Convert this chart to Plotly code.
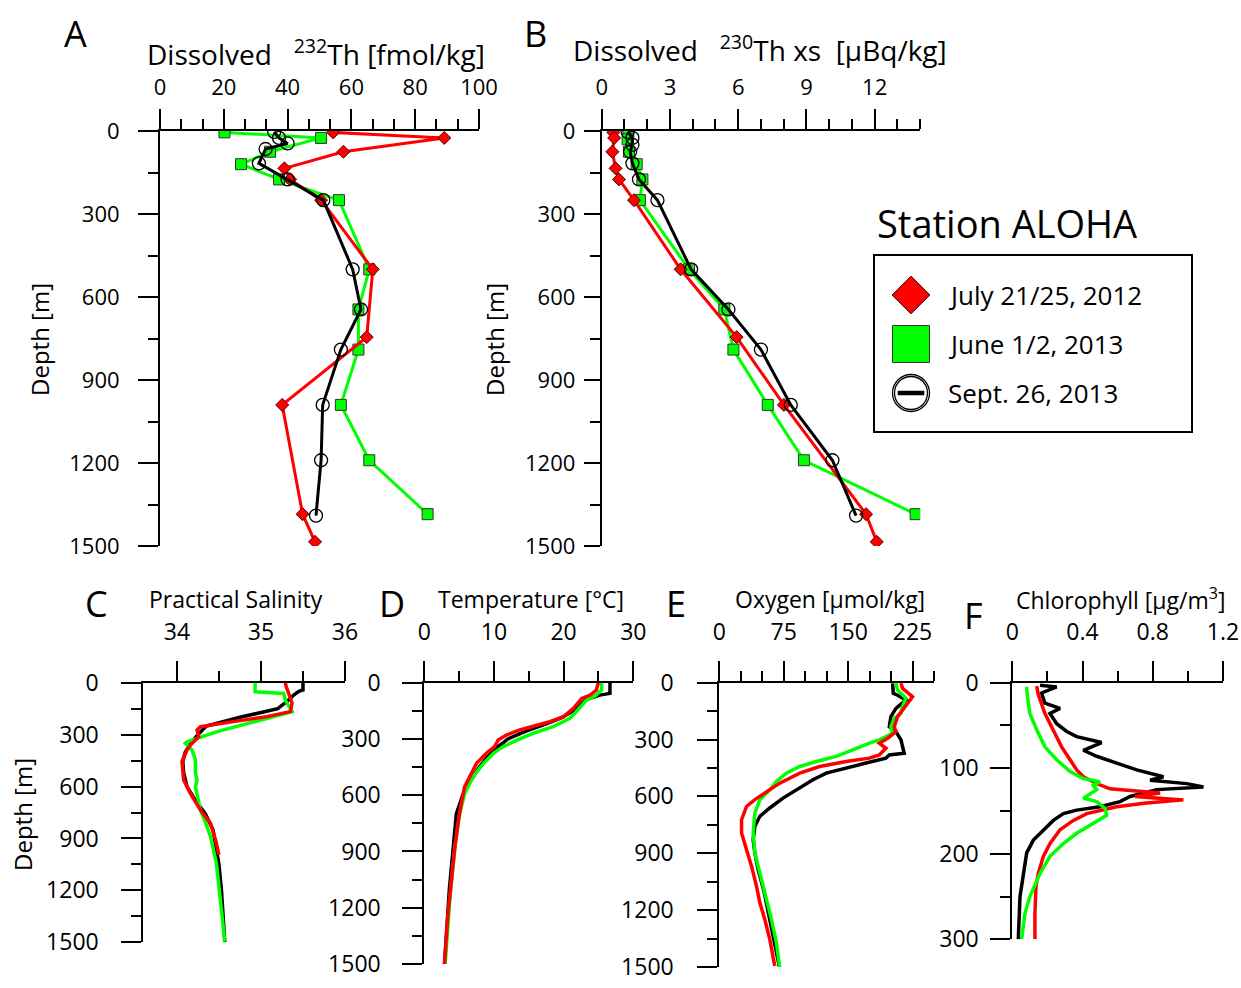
import plotly.graph_objects as go

W, H = 1241, 988
FONT = "Open Sans"

# ---------------- Panel A: dissolved 232Th [fmol/kg] ----------------
a_red_depth = [5, 25, 75, 135, 175, 250, 500, 745, 990, 1385, 1485]
a_red_val = [54.3, 89.1, 57.5, 39.0, 40.8, 50.5, 66.7, 64.8, 38.3, 44.7, 48.6]
a_green_depth = [5, 25, 75, 120, 175, 250, 500, 645, 790, 990, 1190, 1385]
a_green_val = [20.2, 50.5, 34.5, 25.4, 37.3, 56.1, 65.6, 62.2, 62.2, 56.7, 65.6, 83.9]
a_black_depth = [3, 25, 45, 65, 117, 175, 250, 500, 645, 790, 990, 1190, 1390]
a_black_val = [35.8, 37.3, 40.0, 33.1, 31.0, 40.0, 51.2, 60.4, 63.0, 56.7, 51.0, 50.5, 48.9]

# ---------------- Panel B: dissolved 230Th xs [uBq/kg] ----------------
b_red_depth = [5, 25, 75, 135, 175, 250, 500, 745, 990, 1385, 1485]
b_red_val = [0.51, 0.55, 0.47, 0.61, 0.76, 1.42, 3.47, 5.93, 8.01, 11.62, 12.09]
b_green_depth = [5, 30, 75, 120, 175, 250, 500, 645, 790, 990, 1190, 1385]
b_green_val = [1.17, 1.14, 1.20, 1.54, 1.79, 1.68, 3.84, 5.39, 5.79, 7.30, 8.89, 13.80]
b_black_depth = [3, 25, 50, 75, 117, 175, 250, 500, 645, 790, 990, 1190, 1390]
b_black_val = [1.14, 1.35, 1.35, 1.25, 1.35, 1.64, 2.45, 3.93, 5.57, 7.00, 8.31, 10.14, 11.18]

# ---------------- Panel C: practical salinity ----------------
c_red_depth = [0, 23, 62, 119, 167, 196, 225, 254, 273, 312, 360, 389, 456, 562, 639, 736, 813, 909, 995]
c_red_val = [35.29, 35.30, 35.33, 35.37, 35.35, 35.07, 34.67, 34.28, 34.24, 34.26, 34.16, 34.12, 34.06,
             34.08, 34.16, 34.28, 34.40, 34.46, 34.50]
c_green_depth = [0, 52, 62, 100, 167, 190, 225, 283, 341, 350, 389, 447, 520, 562, 601, 680, 736, 820,
                 890, 1044, 1236, 1496]
c_green_val = [34.93, 34.93, 35.27, 35.29, 35.37, 35.20, 34.91, 34.48, 34.12, 34.10, 34.18, 34.22, 34.22,
               34.24, 34.22, 34.26, 34.28, 34.35, 34.40, 34.47, 34.51, 34.57]
c_black_depth = [0, 42, 50, 71, 100, 150, 200, 250, 300, 340, 400, 456, 520, 600, 680, 760, 850, 950,
                 1050, 1200, 1350, 1500]
c_black_val = [35.50, 35.50, 35.45, 35.39, 35.33, 35.20, 34.75, 34.35, 34.25, 34.18, 34.10, 34.07, 34.08,
               34.12, 34.22, 34.34, 34.43, 34.47, 34.50, 34.53, 34.55, 34.57]

# ---------------- Panel D: temperature [degC] ----------------
d_red_depth = [0, 39, 66, 84, 137, 181, 208, 226, 252, 279, 306, 341, 377, 430, 483, 554, 625, 732, 874,
               1052, 1230, 1500]
d_red_val = [24.98, 24.7, 23.8, 22.6, 21.4, 20.0, 18.0, 16.1, 13.7, 11.8, 10.6, 10.1, 8.9, 7.5, 6.8, 5.8,
             5.4, 4.9, 4.4, 3.9, 3.4, 2.9]
d_green_depth = [0, 39, 66, 92, 163, 190, 234, 270, 306, 341, 377, 430, 501, 590, 697, 874, 1141, 1496]
d_green_val = [25.45, 25.45, 24.7, 23.3, 21.6, 20.9, 18.5, 15.6, 13.3, 11.3, 9.9, 8.5, 7.0, 5.8, 5.1, 4.4,
               3.7, 3.0]
d_black_depth = [0, 57, 66, 90, 140, 185, 220, 260, 300, 350, 400, 450, 520, 600, 700, 850, 1100, 1500]
d_black_val = [26.65, 26.65, 25.2, 23.2, 21.8, 19.8, 17.5, 14.5, 12.0, 10.3, 9.0, 7.9, 6.7, 5.5, 4.6, 4.2,
               3.6, 2.9]

# ---------------- Panel E: oxygen [umol/kg] ----------------
e_red_depth = [3, 30, 74, 118, 179, 232, 258, 293, 319, 346, 381, 398, 416, 442, 477, 530, 574, 617, 653,
               723, 793, 880, 968, 1073, 1161, 1249, 1354, 1494]
e_red_val = [211.5, 213.4, 225.0, 217.3, 207.6, 203.7, 205.7, 196.0, 186.3, 194.0, 186.3, 174.7, 147.7,
             116.8, 93.6, 70.4, 54.9, 41.4, 31.7, 25.9, 25.9, 31.7, 37.5, 43.3, 47.2, 53.0, 58.8, 64.6]
e_green_depth = [3, 39, 82, 126, 161, 188, 232, 267, 302, 319, 354, 389, 416, 442, 477, 521, 565, 617, 688,
                 793, 898, 1003, 1126, 1249, 1372, 1503]
e_green_val = [205.7, 207.6, 217.3, 213.4, 211.5, 203.7, 199.8, 201.8, 186.3, 174.7, 155.4, 136.1, 112.9,
               93.6, 78.1, 66.5, 58.8, 47.2, 41.4, 39.4, 41.4, 47.2, 54.9, 60.7, 66.5, 70.4]
e_black_depth = [3, 56, 66, 91, 135, 179, 232, 258, 302, 372, 381, 398, 424, 451, 477, 512, 556, 609, 661,
                 705, 758, 828, 898, 986, 1100, 1250, 1400, 1500]
e_black_val = [201.8, 202.6, 207.6, 217.3, 205.7, 199.8, 197.9, 205.7, 211.5, 215.3, 197.9, 194.0, 170.9,
               147.7, 124.5, 109.0, 93.6, 74.2, 58.8, 47.2, 41.4, 39.4, 41.4, 45.2, 52.0, 59.0, 66.0, 70.0]

# ---------------- Panel F: chlorophyll [ug/m3] ----------------
f_red_depth = [4, 14, 36, 55, 75, 90, 102, 110, 118, 124, 129, 133, 137, 141, 145, 153, 161, 172, 188, 203,
               223, 238, 270, 300]
f_red_val = [0.139, 0.148, 0.186, 0.234, 0.281, 0.329, 0.367, 0.405, 0.481, 0.557, 0.842, 0.700, 0.975,
             0.750, 0.595, 0.424, 0.348, 0.272, 0.215, 0.177, 0.148, 0.135, 0.129, 0.129]
f_green_depth = [5, 16, 36, 55, 75, 90, 104, 112, 116, 120, 125, 135, 139, 147, 155, 164, 176, 188, 203,
                 223, 250, 270, 300]
f_green_val = [0.082, 0.086, 0.100, 0.139, 0.186, 0.253, 0.329, 0.405, 0.500, 0.462, 0.481, 0.405, 0.481,
               0.529, 0.538, 0.462, 0.367, 0.291, 0.215, 0.158, 0.100, 0.072, 0.053]
f_black_depth = [3, 5, 12, 24, 30, 36, 48, 57, 63, 70, 79, 86, 94, 102, 110, 114, 118, 122, 125, 133, 139,
                 145, 149, 153, 161, 172, 184, 199, 223, 250, 300]
f_black_val = [0.158, 0.253, 0.167, 0.186, 0.272, 0.215, 0.253, 0.310, 0.367, 0.509, 0.405, 0.481, 0.595,
               0.709, 0.861, 0.785, 0.994, 1.089, 0.823, 0.671, 0.614, 0.500, 0.367, 0.291, 0.234, 0.177,
               0.120, 0.082, 0.063, 0.044, 0.034]

legend_labels = ["July 21/25, 2012", "June 1/2, 2013", "Sept. 26, 2013"]

RED, GREEN, BLACK = "#ff0000", "#00ff00", "#000000"


def fx(p):
    return p / W


def fy(p):
    return 1 - p / H


fig = go.Figure()

# ---- Panels A and B (profiles with markers) ----
for xa, ya, red, green, black in [
    ("x", "y", (a_red_val, a_red_depth), (a_green_val, a_green_depth), (a_black_val, a_black_depth)),
    ("x2", "y2", (b_red_val, b_red_depth), (b_green_val, b_green_depth), (b_black_val, b_black_depth)),
]:
    fig.add_trace(go.Scatter(x=green[0], y=green[1], xaxis=xa, yaxis=ya, mode="lines+markers",
                             line=dict(color=GREEN, width=3),
                             marker=dict(symbol="square", size=11, color=GREEN,
                                         line=dict(color="#333333", width=1))))
    fig.add_trace(go.Scatter(x=red[0], y=red[1], xaxis=xa, yaxis=ya, mode="lines+markers",
                             line=dict(color=RED, width=3),
                             marker=dict(symbol="diamond", size=10, color=RED,
                                         line=dict(color="#500000", width=1))))
    fig.add_trace(go.Scatter(x=black[0], y=black[1], xaxis=xa, yaxis=ya, mode="lines+markers",
                             line=dict(color=BLACK, width=3),
                             marker=dict(symbol="circle-open", size=13, color=BLACK,
                                         line=dict(width=1.3))))

# ---- Panels C, D, E (black, green, red) ----
for xa, ya, red, green, black in [
    ("x3", "y3", (c_red_val, c_red_depth), (c_green_val, c_green_depth), (c_black_val, c_black_depth)),
    ("x4", "y4", (d_red_val, d_red_depth), (d_green_val, d_green_depth), (d_black_val, d_black_depth)),
    ("x5", "y5", (e_red_val, e_red_depth), (e_green_val, e_green_depth), (e_black_val, e_black_depth)),
]:
    for (xv, yv), col in [(black, BLACK), (green, GREEN), (red, RED)]:
        fig.add_trace(go.Scatter(x=xv, y=yv, xaxis=xa, yaxis=ya, mode="lines",
                                 line=dict(color=col, width=3.5)))

# ---- Panel F (black, red, green) ----
for (xv, yv), col in [((f_black_val, f_black_depth), BLACK), ((f_red_val, f_red_depth), RED),
                      ((f_green_val, f_green_depth), GREEN)]:
    fig.add_trace(go.Scatter(x=xv, y=yv, xaxis="x6", yaxis="y6", mode="lines",
                             line=dict(color=col, width=3.5)))

# ---- legend markers (own pixel axis) ----
LX0, LX1, LY0, LY1 = 873, 1193, 254, 433
fig.add_trace(go.Scatter(x=[911], y=[295], xaxis="x7", yaxis="y7", mode="markers",
                         marker=dict(symbol="diamond", size=29, color=RED, line=dict(color="#300000", width=1))))
fig.add_trace(go.Scatter(x=[911], y=[344], xaxis="x7", yaxis="y7", mode="markers",
                         marker=dict(symbol="square", size=37, color=GREEN, line=dict(color="#333333", width=1))))
fig.add_trace(go.Scatter(x=[911], y=[393], xaxis="x7", yaxis="y7", mode="markers",
                         marker=dict(symbol="circle-open", size=37, color=BLACK, line=dict(width=1.3))))
fig.add_trace(go.Scatter(x=[911], y=[393], xaxis="x7", yaxis="y7", mode="markers",
                         marker=dict(symbol="circle-open", size=33, color=BLACK, line=dict(width=1.3))))
fig.add_trace(go.Scatter(x=[911], y=[393], xaxis="x7", yaxis="y7", mode="markers",
                         marker=dict(symbol="line-ew", size=19, color=BLACK, line=dict(width=4.5, color=BLACK))))


def xaxis_cfg(x0, x1, y_anchor, rng, majors, labels, minors, fsize, standoff, major_len=20):
    return dict(domain=[fx(x0), fx(x1)], range=rng, anchor=y_anchor, side="top", automargin=False,
                showline=True, linecolor="black", linewidth=2, mirror=False,
                ticks="outside", ticklen=major_len, tickwidth=2, tickcolor="black",
                tickmode="array", tickvals=majors, ticktext=labels,
                tickfont=dict(family=FONT, size=fsize, color="black"), ticklabelstandoff=standoff,
                minor=dict(ticks="outside", ticklen=10, tickwidth=2, tickcolor="black",
                           tickmode="array", tickvals=minors, showgrid=False),
                showgrid=False, zeroline=False, fixedrange=True)


def yaxis_cfg(y0, y1, x_anchor, rng, majors, minors, fsize, standoff, major_len=20):
    return dict(domain=[fy(y1), fy(y0)], range=rng, anchor=x_anchor, side="left", automargin=False,
                showline=True, linecolor="black", linewidth=2,
                ticks="outside", ticklen=major_len, tickwidth=2, tickcolor="black",
                tickmode="array", tickvals=majors, ticktext=[str(v) for v in majors],
                tickfont=dict(family=FONT, size=fsize, color="black"), ticklabelstandoff=standoff,
                minor=dict(ticks="outside", ticklen=10, tickwidth=2, tickcolor="black",
                           tickmode="array", tickvals=minors, showgrid=False),
                showgrid=False, zeroline=False, fixedrange=True)


deep_major = [0, 300, 600, 900, 1200, 1500]
deep_minor = [150, 450, 750, 1050, 1350]

layout = dict(
    template="none",
    width=W, height=H, margin=dict(l=0, r=0, t=0, b=0, pad=0, autoexpand=False),
    paper_bgcolor="white", plot_bgcolor="rgba(0,0,0,0)", showlegend=False,
    font=dict(family=FONT, color="black"),
    xaxis=xaxis_cfg(160, 479, "y", [0, 100], [0, 20, 40, 60, 80, 100], ["0", "20", "40", "60", "80", "100"],
                    [20 * i / 3 for i in range(1, 15) if i % 3], 22, 5),
    yaxis=yaxis_cfg(131, 546, "x", [1500, 0], deep_major, deep_minor, 22, 14),
    xaxis2=xaxis_cfg(601.7, 920.2, "y2", [0, 14], [0, 3, 6, 9, 12], ["0", "3", "6", "9", "12"],
                     [1, 2, 4, 5, 7, 8, 10, 11, 13, 14], 22, 5),
    yaxis2=yaxis_cfg(131, 546, "x2", [1500, 0], deep_major, deep_minor, 22, 4, major_len=16),
    xaxis3=xaxis_cfg(143.3, 345, "y3", [33.6, 36], [34, 35, 36], ["34", "35", "36"], [34.5, 35.5], 23, 12),
    yaxis3=yaxis_cfg(682.7, 942.3, "x3", [1500, 0], deep_major, deep_minor, 23, 18),
    xaxis4=xaxis_cfg(424.3, 633.3, "y4", [0, 30], [0, 10, 20, 30], ["0", "10", "20", "30"], [5, 15, 25], 23, 12),
    yaxis4=yaxis_cfg(682.7, 964, "x4", [1500, 0], deep_major, deep_minor, 23, 17),
    xaxis5=xaxis_cfg(719.3, 934, "y5", [0, 250], [0, 75, 150, 225], ["0", "75", "150", "225"],
                     [25, 50, 100, 125, 175, 200, 250], 23, 12),
    yaxis5=yaxis_cfg(682.7, 967, "x5", [1500, 0], deep_major, deep_minor, 23, 19),
    xaxis6=xaxis_cfg(1012.3, 1222.9, "y6", [0, 1.2], [0, 0.4, 0.8, 1.2], ["0", "0.4", "0.8", "1.2"],
                     [0.2, 0.6, 1.0], 23, 12),
    yaxis6=yaxis_cfg(682.7, 939.3, "x6", [300, 0], [0, 100, 200, 300], [50, 150, 250], 23, 7),
    xaxis7=dict(domain=[fx(LX0), fx(LX1)], range=[LX0, LX1], anchor="y7", visible=False, fixedrange=True,
                automargin=False),
    yaxis7=dict(domain=[fy(LY1), fy(LY0)], range=[LY1, LY0], anchor="x7", visible=False, fixedrange=True,
                automargin=False),
)
fig.update_layout(**layout)

# legend box
fig.add_shape(type="rect", xref="x7", yref="y7", x0=LX0 + 1, x1=LX1 - 1, y0=LY0 + 1, y1=LY1 - 1,
              line=dict(color="black", width=2), fillcolor="rgba(0,0,0,0)")

ann = []


def text(x, y, s, size, xanchor="center", angle=0):
    ann.append(dict(x=fx(x), y=fy(y), xref="paper", yref="paper", text=s, showarrow=False,
                    xanchor=xanchor, yanchor="middle", textangle=angle,
                    font=dict(family=FONT, size=size, color="black")))


# legend texts
for lbl, yy in zip(legend_labels, [295, 344, 393]):
    text(946, yy, lbl, 26, xanchor="left")
text(1007, 223, "Station ALOHA", 38)

# panel letters
for letter, xx, yy in [("A", 75, 33), ("B", 535, 33), ("C", 97, 603), ("D", 392, 603), ("E", 676, 603),
                       ("F", 973, 615)]:
    text(xx, yy, letter, 36)

# axis titles
text(145, 53, "Dissolved&nbsp;&nbsp; <sup>232</sup>Th [fmol/kg]", 28, xanchor="left")
text(571, 48, "Dissolved&nbsp;&nbsp; <sup>230</sup>Th xs&nbsp; [µBq/kg]", 28, xanchor="left")
text(236, 599, "Practical Salinity", 23)
text(531, 599, "Temperature [°C]", 23)
text(830, 599, "Oxygen [µmol/kg]", 23)
text(1120, 599, "Chlorophyll [µg/m<sup>3</sup>]", 23)
text(39, 340, "Depth [m]", 24, angle=-90)
text(494, 340, "Depth [m]", 24, angle=-90)
text(22, 815, "Depth [m]", 24, angle=-90)

fig.update_layout(annotations=ann)

fig.write_html("out.html", config={"displayModeBar": False},
               post_script="document.body.style.margin='0';")
